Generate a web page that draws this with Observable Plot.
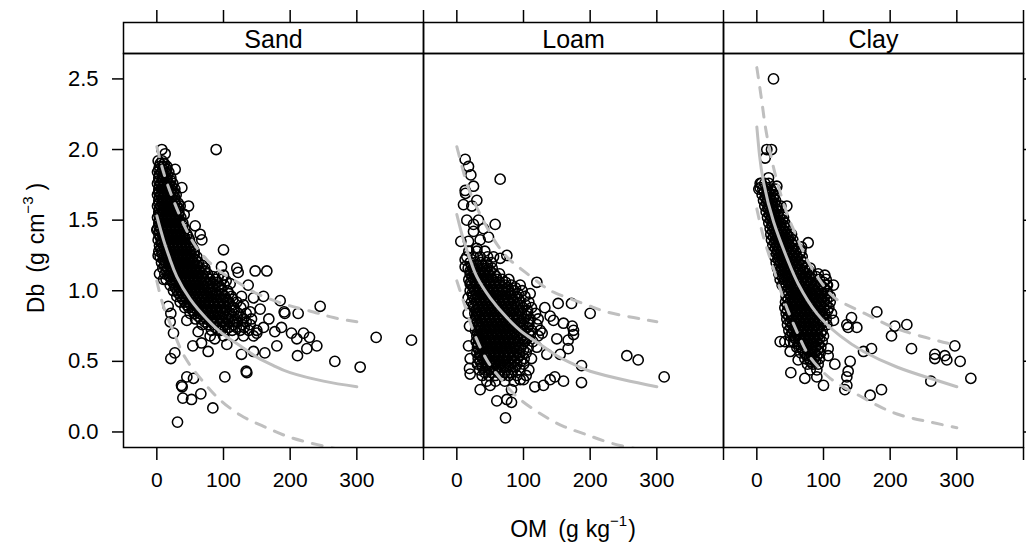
<!DOCTYPE html>
<html><head><meta charset="utf-8">
<script src="https://cdn.jsdelivr.net/npm/d3@7"></script>
<script src="https://cdn.jsdelivr.net/npm/@observablehq/plot@0.6"></script>
<style>body{margin:0;background:#fff;} svg{display:block}</style>
</head><body><div id="chart"></div>
<script>
// ---------- categories & ticks ----------
const panels = ["Sand", "Loam", "Clay"];
const xTicks = [0, 100, 200, 300, 400];
const xTickLabels = [0, 100, 200, 300];
const yTicks = [0, 0.5, 1, 1.5, 2, 2.5];

// ---------- scattered points [OM, Db] ----------
const sandScatter = [[7.5,2.00],[12.5,1.97],[11,1.90],[27.5,1.86],[89,2.00],[37.5,1.73],[47.5,1.60],[41,1.54],[57.5,1.46],[65,1.40],[67.5,1.36],[100,1.29],[120,1.16],[147.5,1.14],[165,1.14],[122,1.13],[137,1.04],[110,1.05],[100,1.11],[185,0.93],[160,0.96],[145,0.95],[127,0.96],[0,1.43],[10,1.08],
[245,0.89],[212,0.84],[191,0.85],[140,0.85],[329,0.67],[382,0.65],[267,0.50],[305,0.46],[240,0.61],[225,0.59],[211,0.54],[229,0.67],[220,0.70],[202,0.70],[210,0.66],[180,0.61],[177,0.71],[162,0.56],[160,0.74],[150,0.70],[145,0.57],[134,0.43],[135,0.42],[127,0.55],[102,0.39],[105,0.62],[77,0.57],[67,0.63],[54,0.61],[87,0.66],[62,0.71],[27,0.56],[21,0.52],[25,0.70],[20,0.78],[21,0.84],[17,0.89],[45,0.39],[55,0.38],[37,0.33],[38,0.32],[66,0.27],[52,0.23],[39,0.24],[84,0.17],[31,0.07],[45,0.79],[80,0.68],[187,0.74],[192,0.84],[168,0.80],[155,0.87],[130,0.90],[115,0.78],[96,0.72],[5,1.55],[3,1.70],[2,1.25],[4,1.12],[92,1.10],[104,1.07],[97,1.17]];

const loamScatter = [[12.5,1.93],[17.5,1.88],[21,1.82],[65,1.79],[25,1.74],[12.5,1.71],[13,1.69],[30,1.64],[10,1.61],[22.5,1.60],[15,1.50],[32.5,1.50],[25,1.47],[57.5,1.47],[40,1.44],[47.5,1.38],[25,1.42],[6,1.35],[17.5,1.35],[35,1.36],[30,1.30],[75,1.25],[12.5,1.17],[12.5,1.22],[120,1.06],[65,1.23],[55,1.24],
[152,0.91],[172,0.91],[200,0.84],[255,0.54],[272,0.51],[311,0.39],[187,0.47],[187,0.35],[160,0.36],[175,0.72],[175,0.69],[167,0.65],[167,0.59],[173,0.75],[155,0.55],[140,0.37],[130,0.33],[117,0.32],[147,0.39],[140,0.82],[145,0.79],[82,0.30],[75,0.23],[82,0.21],[60,0.22],[73,0.10],[35,0.30],[50,0.33],[20,0.41],[19,0.45],[17.5,0.61],[20,0.52],[17,0.84],[19,0.75],[95,0.37],[100,0.37],[135,0.55],[128,0.70],[150,0.66],[160,0.77],[132,0.88],[110,0.98],[20,1.05],[17,0.95]];

const clayScatter = [[25,2.50],[15,2.00],[22,2.00],[12.5,1.94],[5,1.73],[7,1.76],[17.5,1.80],[30,1.74],[45,1.60],[77,1.34],[67,1.31],[60,1.24],[75,1.16],[102,1.11],[105,1.04],[47,1.38],
[180,0.85],[142,0.81],[135,0.76],[137,0.74],[150,0.74],[207,0.75],[225,0.76],[202,0.68],[232,0.59],[172,0.59],[160,0.57],[297,0.61],[267,0.55],[267,0.52],[282,0.54],[285,0.51],[305,0.50],[321,0.38],[261,0.36],[170,0.26],[187,0.30],[140,0.50],[137,0.43],[135,0.39],[135,0.33],[132,0.30],[117,0.48],[100,0.33],[72,0.38],[51,0.42],[90,0.39],[62,0.51],[50,0.57],[35,0.64],[42,0.64],[50,0.64],[107,0.59],[107,0.54],[115,0.79],[62,1.05]];

// ---------- dense clouds: [Db, [OM ...]] ----------
const sandCloud = [
[1.92,[2,8]],[1.88,[4,10,15]],[1.84,[1,7,13,18]],[1.80,[3,9,15,21]],[1.76,[1,6,12,18,24]],
[1.72,[3,9,15,21,27]],[1.68,[1,6,12,18,24,29]],[1.64,[3,9,15,21,27]],[1.60,[1,6,12,18,24,30,35]],
[1.56,[3,9,15,21,27,33]],[1.52,[1,6,12,18,24,30,36]],[1.48,[3,9,15,21,27,33,39]],
[1.44,[1,6,12,18,24,30,36,42]],[1.40,[3,9,15,21,27,33,39,45]],[1.36,[2,7,13,19,25,31,37,43,49]],
[1.32,[4,10,16,22,28,34,40,46,52]],[1.28,[3,8,14,20,26,32,38,44,50,56]],[1.24,[5,11,17,23,29,35,41,47,53,60]],
[1.20,[7,13,19,25,31,37,43,49,55,62]],[1.16,[9,16,22,28,34,40,46,52,58,65,72]],
[1.12,[12,19,25,31,37,43,49,55,61,68,76]],[1.08,[14,22,28,34,40,46,52,58,64,71,80,88,98]],
[1.04,[20,27,33,39,45,51,57,63,69,76,84,93,101]],[1.00,[25,31,37,43,49,55,61,67,73,80,88,97,106]],
[0.96,[30,36,42,48,54,60,66,72,78,85,93,102,112]],[0.92,[35,42,48,54,60,66,72,78,85,92,100,108,120]],
[0.88,[42,48,55,62,68,75,82,89,96,104,115,126]],[0.84,[50,57,64,71,78,85,92,100,110,122,134]],
[0.80,[58,66,74,82,90,98,107,118,130,142]],[0.76,[68,77,86,95,104,115,128,140]],
[0.72,[82,92,102,113,125,138,150]],[0.68,[100,115,130,145]],
// in-between rows of the solid core
[1.90,[5,11]],[1.86,[3,9,15]],[1.82,[4,10,16]],[1.78,[3,9,15,21]],[1.74,[4,10,16,22]],
[1.70,[3,9,15,21,26]],[1.66,[4,10,16,22,27]],[1.62,[3,9,15,21,27,32]],[1.58,[4,10,16,22,28,33]],
[1.54,[3,9,15,21,27,33]],[1.50,[4,10,16,22,28,34]],[1.46,[3,9,15,21,27,33,39]],
[1.42,[4,10,16,22,28,34,40]],[1.38,[5,11,17,23,29,35,41,47]],[1.34,[7,13,19,25,31,37,43,49]],
[1.30,[6,12,18,24,30,36,42,48,54]],[1.26,[8,14,20,26,32,38,44,50,56]],[1.22,[10,16,22,28,34,40,46,52,58]],
[1.18,[12,19,25,31,37,43,49,55,61,68]],[1.14,[15,22,28,34,40,46,52,58,64,72]],
[1.10,[19,25,31,37,43,49,55,61,67,75,84]],[1.06,[24,30,36,42,48,54,60,66,73,80,90]],
[1.02,[28,34,40,46,52,58,64,70,77,84,93]],[0.98,[33,39,45,51,57,63,69,75,82,89,98,108]],
[0.94,[39,45,51,57,63,69,75,82,89,96,104,114]],[0.90,[45,51,58,65,72,79,86,93,100,110]],
[0.86,[54,61,68,75,82,89,96,105,116]],[0.82,[62,70,78,86,94,103,113,125]],
[0.78,[72,81,90,99,109,121,134]],[0.74,[88,98,108,119,131]]];

const loamCloud = [
[1.28,[18,30,42]],[1.24,[15,25,35,46]],[1.20,[20,28,36,44,52]],[1.16,[17,24,31,38,45,53]],
[1.12,[20,27,34,41,48,56,64]],[1.08,[18,25,32,39,46,53,60,68,78]],[1.04,[22,29,36,43,50,57,64,72,82,95]],
[1.00,[20,27,34,41,48,55,62,69,77,86,98]],[0.96,[24,31,38,45,52,59,66,73,81,90,102]],
[0.92,[22,29,36,43,50,57,64,71,78,86,95,108]],[0.88,[26,33,40,47,54,61,68,75,82,90,99,112]],
[0.84,[27,31,38,45,52,59,66,73,80,88,97,106,118]],[0.80,[28,35,42,49,56,63,70,77,84,92,101,110,122]],
[0.76,[29,33,40,47,54,61,68,75,82,90,99,108,120]],[0.72,[28,35,42,49,56,63,70,77,84,92,101,112,125]],
[0.68,[30,33,40,47,54,61,68,75,82,90,99,110,122]],[0.64,[29,35,42,49,56,63,70,77,84,92,102,114]],
[0.60,[31,37,44,51,58,65,72,79,87,96,107,120]],[0.56,[30,35,42,49,56,63,70,77,85,94,104]],
[0.52,[32,39,46,53,60,67,74,82,91,101,112]],[0.48,[31,37,44,51,58,65,72,80,90,100]],
[0.44,[34,42,50,58,66,74,84,95,108]],[0.40,[38,48,58,68,78,90,104]],[0.36,[45,58,72,86]],
// in-between rows of the core
[1.18,[22,30,38,46]],[1.14,[20,28,35,42,50]],[1.10,[23,30,37,44,51,59]],[1.06,[21,28,35,42,49,56,64,73]],
[1.02,[25,32,39,46,53,60,68,77,88]],[0.98,[23,30,37,44,51,58,65,73,81,92]],[0.94,[27,34,41,48,55,62,69,76,84,93]],
[0.90,[25,32,39,46,53,60,67,74,82,91,103]],[0.86,[29,36,43,50,57,64,71,78,86,95,106]],
[0.82,[29,34,41,48,55,62,69,76,84,93,104]],[0.78,[31,38,45,52,59,66,73,80,88,97,108]],
[0.74,[31,36,43,50,57,64,71,78,86,95,106]],[0.70,[31,38,45,52,59,66,73,80,88,97,108]],
[0.66,[32,36,43,50,57,64,71,78,86,95,105]],[0.62,[32,39,46,53,60,67,74,81,89,98]],
[0.58,[33,40,47,54,61,68,75,82,90,100]],[0.54,[35,42,49,56,63,70,77,85,94]],
[0.50,[35,42,49,56,63,70,77,86,96]],[0.46,[38,46,54,62,70,78,88]],[0.42,[42,52,62,72,82]]];

const clayCloud = [
[1.76,[5,12,18]],[1.72,[3,9,15,21,28]],[1.68,[8,14,20,26]],[1.64,[10,16,22,28]],[1.60,[12,18,24,30,36]],
[1.56,[14,20,26,32]],[1.52,[16,22,28,34,40]],[1.48,[18,24,30,36,42]],[1.44,[20,26,32,38,44]],
[1.40,[21,27,33,39,45,52]],[1.36,[22,28,34,40,47,54]],[1.32,[24,30,36,42,49,56]],
[1.28,[25,31,37,44,51,58,66]],[1.24,[27,33,39,46,53,60,68]],[1.20,[29,35,41,48,55,62,70]],
[1.16,[31,37,43,50,57,64,72,80]],[1.12,[33,39,45,52,59,66,74,82,92]],[1.08,[35,41,47,54,61,68,76,84,94,104]],
[1.04,[38,44,50,57,64,71,79,87,96,106,115]],[1.00,[45,52,59,66,73,80,88,96,105]],
[0.96,[44,51,58,65,72,79,86,94,102,110]],[0.92,[43,50,57,64,71,78,85,93,101,110]],
[0.88,[42,49,56,63,70,77,84,92,100,108]],[0.84,[44,51,58,65,72,79,86,94,102,112]],
[0.80,[45,52,59,66,73,80,87,95,104]],[0.76,[46,53,60,67,74,81,88,96,105]],
[0.72,[48,55,62,69,76,83,90,98]],[0.68,[50,57,64,71,78,85,92,100]],[0.64,[55,62,69,76,83,90,98]],
[0.60,[60,67,74,81,88,96]],[0.56,[66,73,80,87,95]],[0.52,[72,79,86,94]],[0.48,[76,84,92]],[0.44,[80,90]],
// in-between rows of the band
[1.70,[11,17,23]],[1.66,[13,19,25]],[1.62,[15,21,27]],[1.58,[17,23,29]],[1.54,[19,25,31,37]],
[1.50,[21,27,33,39]],[1.46,[23,29,35,41]],[1.42,[24,30,36,42,48]],[1.38,[25,31,37,43,50]],
[1.34,[27,33,39,45,52]],[1.30,[28,34,40,47,54,61]],[1.26,[30,36,42,49,56,64]],[1.22,[32,38,44,51,58,66]],
[1.18,[34,40,46,53,60,68]],[1.14,[36,42,48,55,62,70,78]],[1.10,[38,44,50,57,64,72,80,89]],
[1.06,[41,47,53,60,67,74,82,91,100]],[1.02,[48,55,62,69,76,84,92,101]],[0.98,[48,55,62,69,76,83,90,98,106]],
[0.94,[47,54,61,68,75,82,89,97,105]],[0.90,[46,53,60,67,74,81,88,96,104]],[0.86,[46,53,60,67,74,81,88,96,106]],
[0.82,[48,55,62,69,76,83,91,99]],[0.78,[50,57,64,71,78,85,92,100]],[0.74,[51,58,65,72,79,86,93]],
[0.70,[53,60,67,74,81,88,96]],[0.66,[58,65,72,79,86,94]],[0.62,[63,70,77,84,92]],
[0.58,[69,76,83,91]],[0.54,[75,82,90]],[0.50,[80,88]]];

// ---------- fitted curves and bounds [OM, Db] ----------
const sandFit   = [[0,1.53],[10,1.36],[20,1.22],[30,1.10],[50,0.94],[75,0.80],[100,0.69],[125,0.61],[150,0.53],[175,0.47],[200,0.42],[250,0.36],[300,0.32]];
const sandUpper = [[0,2.02],[10,1.84],[25,1.64],[50,1.38],[75,1.22],[100,1.12],[125,1.05],[150,0.98],[195,0.90],[235,0.85],[265,0.81],[300,0.78]];
const sandLower = [[0,1.07],[10,0.89],[25,0.71],[42,0.53],[67,0.37],[92,0.24],[125,0.12],[160,0.04],[195,-0.03],[232,-0.08],[270,-0.12],[300,-0.15]];
const loamFit   = [[0,1.54],[10,1.36],[20,1.22],[30,1.10],[50,0.95],[75,0.81],[100,0.70],[125,0.62],[150,0.54],[175,0.48],[200,0.43],[250,0.37],[300,0.32]];
const loamUpper = [[0,2.02],[10,1.84],[25,1.64],[60,1.33],[92,1.17],[125,1.05],[150,0.98],[195,0.90],[225,0.85],[265,0.81],[300,0.78]];
const loamLower = [[0,1.07],[15,0.85],[25,0.71],[45,0.51],[67,0.37],[90,0.25],[125,0.13],[160,0.04],[195,-0.02],[232,-0.08],[270,-0.12],[300,-0.15]];
const clayFit   = [[0,2.16],[4,1.96],[10,1.77],[25,1.49],[47,1.21],[62,1.05],[90,0.84],[125,0.68],[160,0.57],[210,0.46],[260,0.38],[300,0.32]];
const clayUpper = [[0,2.58],[7.5,2.34],[12.5,2.17],[20,1.98],[30,1.78],[45,1.55],[60,1.38],[80,1.18],[110,0.98],[135,0.90],[170,0.82],[205,0.74],[245,0.68],[285,0.63],[300,0.62]];
const clayLower = [[0,1.58],[10,1.38],[22,1.20],[35,1.01],[50,0.82],[65,0.66],[80,0.53],[110,0.38],[145,0.28],[180,0.19],[215,0.12],[255,0.075],[300,0.03]];

// ---------- build tables ----------
const cloud = rows => rows.flatMap(([db, oms]) => oms.map(om => [om, db]));
const pts = (panel, arr) => arr.map(([om, db]) => ({panel, om, db}));
const points = [
  ...pts("Sand", cloud(sandCloud)), ...pts("Sand", sandScatter),
  ...pts("Loam", cloud(loamCloud)), ...pts("Loam", loamScatter),
  ...pts("Clay", cloud(clayCloud)), ...pts("Clay", clayScatter)
];
const crv = (panel, series, arr) => arr.map(([om, db]) => ({panel, series, om, db}));
const fits = [...crv("Sand","fit",sandFit), ...crv("Loam","fit",loamFit), ...crv("Clay","fit",clayFit)];
const bounds = [
  ...crv("Sand","upper",sandUpper), ...crv("Sand","lower",sandLower),
  ...crv("Loam","upper",loamUpper), ...crv("Loam","lower",loamLower),
  ...crv("Clay","upper",clayUpper), ...crv("Clay","lower",clayLower)
];

const grey = "#bfbfbf";
const font = "'Liberation Sans', Arial, sans-serif";
const chart = Plot.plot({
  width: 1026, height: 548,
  marginLeft: 123, marginRight: 3, marginTop: 53, marginBottom: 101,
  style: {fontFamily: font, fontSize: "21px", color: "black", background: "white"},
  fx: {domain: panels, padding: 0, label: null},
  x: {domain: [-50, 400]},
  y: {domain: [-0.11, 2.68]},
  marks: [
    Plot.dot(points, {x: "om", y: "db", fx: "panel", r: 5.1, stroke: "black", strokeWidth: 1.55, fill: "none"}),
    Plot.line(bounds, {x: "om", y: "db", fx: "panel", z: "series", stroke: grey, strokeWidth: 3, strokeDasharray: "10,10", curve: "natural", clip: true}),
    Plot.line(fits, {x: "om", y: "db", fx: "panel", z: "series", stroke: grey, strokeWidth: 3, curve: "natural", clip: true}),
    Plot.frame({stroke: "black", strokeWidth: 1.5}),
    Plot.frame({stroke: "black", strokeWidth: 1.5, insetTop: -31, insetBottom: 394}),
    Plot.ruleX(xTicks, {stroke: "black", strokeWidth: 1.5, insetTop: -43, insetBottom: 425}),
    Plot.axisFx({anchor: "top", tickSize: 0, tickPadding: 6, fontSize: 25, label: null}),
    Plot.axisY({anchor: "left", ticks: yTicks, tickFormat: d3.format(".1f"), tickSize: 11, tickPadding: 14, fontSize: 22, strokeWidth: 1.5, label: null}),
    Plot.axisY({anchor: "right", ticks: yTicks, tickFormat: () => "", tickSize: 11, strokeWidth: 1.5, label: null}),
    Plot.axisX({anchor: "bottom", ticks: xTicks, tickFormat: d => xTickLabels.includes(d) ? String(d) : "", tickSize: 13, tickPadding: 12, strokeWidth: 1.5, label: null})
  ]
});
document.getElementById("chart").appendChild(chart);

// axis titles
const svg = d3.select(chart);
const xt = svg.append("text").attr("x", 573).attr("y", 537).attr("text-anchor", "middle")
  .attr("font-size", 23).attr("fill", "black").attr("font-family", font);
xt.append("tspan").text("OM");
xt.append("tspan").attr("dx", 11).text("(g");
xt.append("tspan").attr("dx", 7).text("kg");
xt.append("tspan").attr("dy", -11).attr("font-size", 15).text("\u22121");
xt.append("tspan").attr("dy", 11).attr("dx", 1).text(")");

const yt = svg.append("text").attr("transform", "translate(44,248) rotate(-90)").attr("text-anchor", "middle")
  .attr("font-size", 23).attr("fill", "black").attr("font-family", font);
yt.append("tspan").text("Db");
yt.append("tspan").attr("dx", 11).text("(g");
yt.append("tspan").attr("dx", 8).text("cm");
yt.append("tspan").attr("dy", -11).attr("font-size", 15).text("\u22123");
yt.append("tspan").attr("dy", 11).attr("dx", 6).text(")");
</script>
</body></html>
